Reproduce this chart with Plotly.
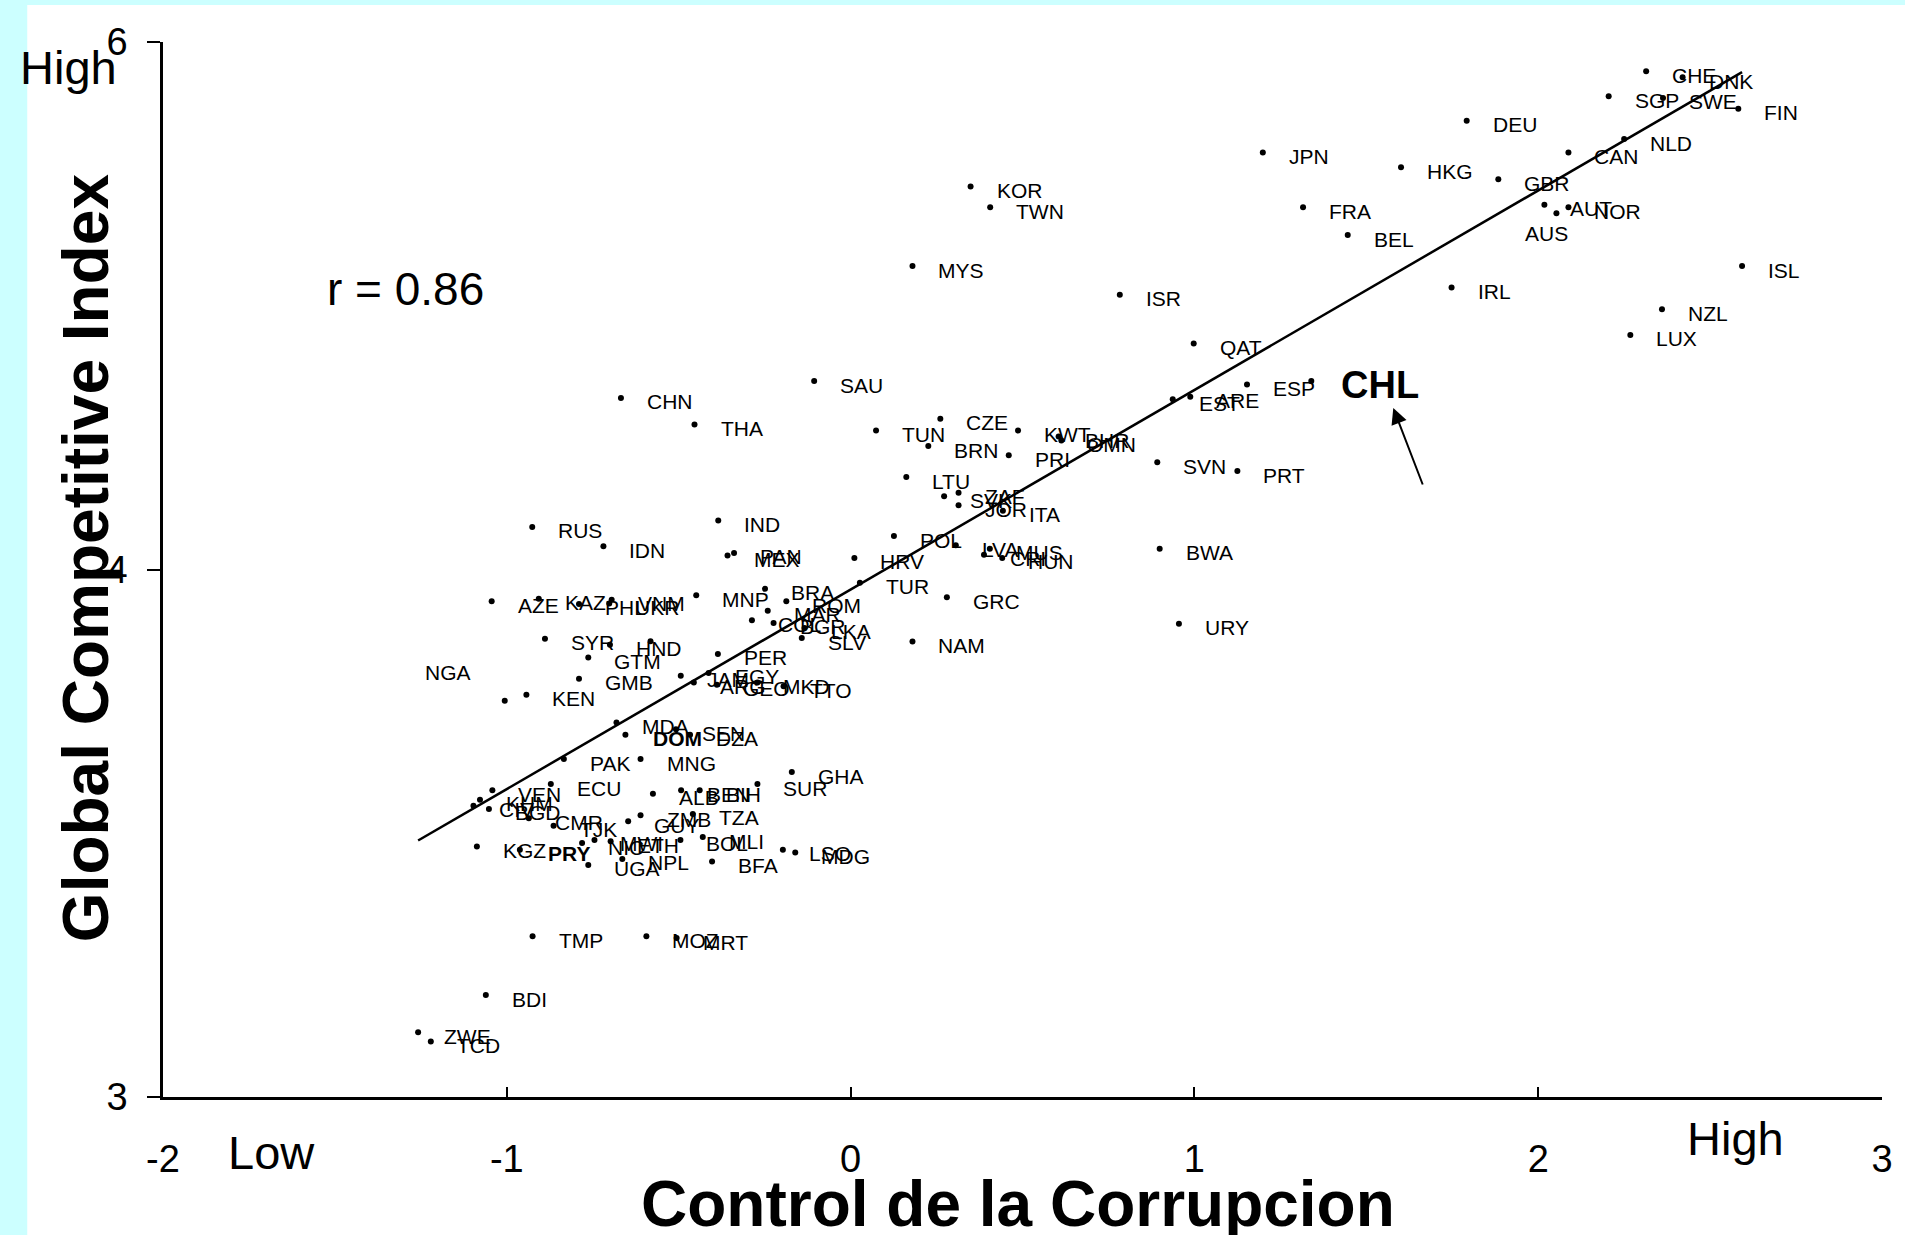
import numpy as np
import plotly.graph_objects as go

# ---------------- data ----------------
codes = ["CHE", "DNK", "SGP", "SWE", "FIN", "DEU", "NLD", "CAN", "JPN", "HKG",
         "GBR", "KOR", "AUT", "NOR", "AUS", "FRA", "TWN", "BEL", "MYS", "ISL",
         "IRL", "ISR", "NZL", "LUX", "QAT", "SAU", "CHL", "ESP", "ARE", "EST",
         "CHN", "CZE", "THA", "TUN", "KWT", "BHR", "OMN", "BRN", "PRI", "SVN",
         "PRT", "LTU", "ZAF", "SVK", "JOR", "ITA", "IND", "RUS", "POL", "IDN",
         "LVA", "MUS", "BWA", "PAN", "CRI", "MEX", "HRV", "HUN", "TUR", "BRA",
         "MNP", "GRC", "KAZ", "AZE", "ROM", "UKR", "PHL", "VNM", "MAR", "COL",
         "BGR", "URY", "LKA", "SLV", "SYR", "NAM", "HND", "PER", "GTM", "JAM",
         "NGA", "GMB", "ARG", "MKD", "GEO", "TTO", "KEN", "MDA", "SEN", "DOM",
         "DZA", "PAK", "MNG", "GHA", "SUR", "ECU", "VEN", "BEN", "BIH", "ALB",
         "KHM", "CIV", "BGD", "TZA", "ZMB", "CMR", "GUY", "TJK", "MLI", "MWI",
         "BOL", "ETH", "NIC", "KGZ", "PRY", "LSO", "MDG", "NPL", "BFA", "UGA",
         "TMP", "MOZ", "MRT", "BDI", "ZWE", "TCD", "EGY", "ARM"]

control_corrupcion = [
    2.314, 2.420, 2.205, 2.363, 2.582, 1.792, 2.250, 2.088, 1.199, 1.601,
    1.884, 0.349, 2.018, 2.088, 2.053, 1.316, 0.406, 1.446, 0.180, 2.593,
    1.748, 0.783, 2.360, 2.268, 0.998, -0.106, 1.340, 1.153, 0.988, 0.937,
    -0.668, 0.261, -0.454, 0.074, 0.487, 0.605, 0.613, 0.226, 0.460, 0.892,
    1.125, 0.162, 0.314, 0.272, 0.314, 0.443, -0.385, -0.926, 0.126, -0.719,
    0.306, 0.405, 0.899, -0.339, 0.388, -0.358, 0.011, 0.441, 0.027, -0.249,
    -0.449, 0.280, -0.907, -1.044, -0.187, -0.702, -0.790, -0.695, -0.241, -0.287,
    -0.224, 0.955, -0.134, -0.142, -0.889, 0.180, -0.700, -0.386, -0.763, -0.494,
    -1.006, -0.790, -0.456, -0.271, -0.389, -0.195, -0.943, -0.681, -0.508, -0.655,
    -0.467, -0.834, -0.611, -0.171, -0.271, -0.872, -1.042, -0.493, -0.439, -0.575,
    -1.078, -1.097, -1.052, -0.459, -0.611, -0.936, -0.647, -0.864, -0.430, -0.745,
    -0.495, -0.698, -0.781, -1.087, -0.962, -0.197, -0.161, -0.664, -0.403, -0.763,
    -0.925, -0.594, -0.506, -1.061, -1.258, -1.221, -0.413, -0.582]

global_competitive_index = [
    5.917, 5.900, 5.846, 5.841, 5.810, 5.776, 5.724, 5.686, 5.686, 5.644,
    5.610, 5.589, 5.537, 5.530, 5.513, 5.530, 5.530, 5.451, 5.363, 5.363,
    5.302, 5.281, 5.240, 5.167, 5.143, 5.036, 5.036, 5.026, 4.991, 4.984,
    4.988, 4.929, 4.912, 4.895, 4.895, 4.878, 4.867, 4.851, 4.825, 4.805,
    4.780, 4.763, 4.718, 4.708, 4.683, 4.667, 4.639, 4.621, 4.595, 4.566,
    4.569, 4.559, 4.559, 4.547, 4.542, 4.540, 4.533, 4.533, 4.462, 4.445,
    4.427, 4.421, 4.417, 4.410, 4.410, 4.403, 4.402, 4.414, 4.383, 4.356,
    4.348, 4.346, 4.334, 4.305, 4.303, 4.295, 4.286, 4.260, 4.250, 4.198,
    4.127, 4.189, 4.179, 4.179, 4.172, 4.168, 4.144, 4.065, 4.046, 4.030,
    4.030, 3.961, 3.961, 3.924, 3.890, 3.890, 3.872, 3.872, 3.872, 3.862,
    3.845, 3.828, 3.819, 3.805, 3.801, 3.793, 3.784, 3.771, 3.739, 3.731,
    3.731, 3.727, 3.722, 3.712, 3.703, 3.703, 3.695, 3.677, 3.670, 3.660,
    3.457, 3.457, 3.452, 3.290, 3.184, 3.158, 4.206, 4.296]

x_ticks = [-2, -1, 0, 1, 2, 3]
y_ticks = [3, 4.5, 6]
y_tick_labels = ["3", "4", "6"]
r_text = "r = 0.86"
highlight = "CHL"

# ---------------- styling ----------------
FONT = "Liberation Sans, Arial, Helvetica, sans-serif"
W, H = 1905, 1235
L, R, T, B = 163, 20, 42, 138
PW, PH = W - L - R, H - T - B


def px_x(p):
    return (p - L) / PW


def px_y(p):
    return (H - B - p) / PH


# special label placements (style only)
label_style = {
    "NGA": dict(xanchor="right", xshift=-32, yshift=28),
    "AUS": dict(xanchor="center", xshift=-10, yshift=-20),
    "CHL": dict(xanchor="left", xshift=28, yshift=-4, size=38, bold=True),
    "DOM": dict(xanchor="left", xshift=26, yshift=-4, bold=True),
    "PRY": dict(xanchor="left", xshift=26, yshift=-4, bold=True),
    "ARM": dict(hidden=True),
}

x = np.array(control_corrupcion)
y = np.array(global_competitive_index)

fig = go.Figure()

fig.add_trace(go.Scatter(
    x=x, y=y, mode="markers",
    marker=dict(size=6, color="black"),
    hovertext=codes, showlegend=False))

# fitted regression line
slope, intercept = np.polyfit(x, y, 1)
xs = np.sort(x)
fig.add_trace(go.Scatter(
    x=xs, y=slope * xs + intercept, mode="lines",
    line=dict(color="black", width=2.5), showlegend=False, hoverinfo="skip"))

annotations = []
for c, xv, yv in zip(codes, control_corrupcion, global_competitive_index):
    st = label_style.get(c, {})
    if st.get("hidden"):
        continue
    size = st.get("size", 21)
    txt = f"<b>{c}</b>" if st.get("bold") else c
    annotations.append(dict(
        x=xv, y=yv, xref="x", yref="y", text=txt, showarrow=False,
        xanchor=st.get("xanchor", "left"), yanchor="middle",
        xshift=st.get("xshift", 24), yshift=st.get("yshift", -4),
        font=dict(family=FONT, size=size, color="black")))

# arrow pointing at the highlighted country label
hi = codes.index(highlight)
annotations.append(dict(
    x=control_corrupcion[hi], y=global_competitive_index[hi], xref="x", yref="y",
    xshift=82, yshift=-27, text="", showarrow=True,
    ax=30, ay=78, arrowhead=2, arrowsize=1.6, arrowwidth=2, arrowcolor="black"))

# texts
annotations += [
    dict(x=px_x(325), y=px_y(289), xref="paper", yref="paper", text=r_text,
         showarrow=False, xanchor="left", yanchor="middle",
         font=dict(family=FONT, size=46, color="black")),
    dict(x=px_x(18), y=px_y(67), xref="paper", yref="paper", text="High",
         showarrow=False, xanchor="left", yanchor="middle",
         font=dict(family=FONT, size=47, color="black")),
    dict(x=px_x(226), y=px_y(1152), xref="paper", yref="paper", text="Low",
         showarrow=False, xanchor="left", yanchor="middle",
         font=dict(family=FONT, size=47, color="black")),
    dict(x=px_x(1688), y=px_y(1138), xref="paper", yref="paper", text="High",
         showarrow=False, xanchor="left", yanchor="middle",
         font=dict(family=FONT, size=47, color="black")),
    dict(x=px_x(1019), y=px_y(1204), xref="paper", yref="paper",
         text="<b>Control de la Corrupcion</b>",
         showarrow=False, xanchor="center", yanchor="middle",
         font=dict(family=FONT, size=64, color="black")),
    dict(x=px_x(86), y=px_y(558), xref="paper", yref="paper",
         text="<b>Global Competitive Index</b>", textangle=-90,
         showarrow=False, xanchor="center", yanchor="middle",
         font=dict(family=FONT, size=64, color="black")),
]

fig.update_layout(
    width=W, height=H,
    margin=dict(l=L, r=R, t=T, b=B, pad=0),
    paper_bgcolor="#CCFFFF", plot_bgcolor="white",
    font=dict(family=FONT, color="black"),
    annotations=annotations,
    shapes=[dict(type="rect", xref="paper", yref="paper",
                 x0=px_x(27), x1=px_x(W + 5), y0=px_y(H + 5), y1=px_y(5),
                 fillcolor="white", line=dict(width=0), layer="below")],
    showlegend=False,
)

fig.update_xaxes(
    range=[-2, 3], tickvals=x_ticks, ticktext=[str(v) for v in x_ticks],
    ticks="inside", ticklen=10, tickwidth=2, tickcolor="black",
    showline=True, linewidth=3, linecolor="black",
    showgrid=False, zeroline=False,
    tickfont=dict(family=FONT, size=38, color="black"),
    ticklabelstandoff=26)

fig.update_yaxes(
    range=[3, 6], tickvals=y_ticks, ticktext=y_tick_labels,
    ticks="outside", ticklen=13, tickwidth=2, tickcolor="black",
    showline=True, linewidth=2.5, linecolor="black",
    showgrid=False, zeroline=False,
    tickfont=dict(family=FONT, size=38, color="black"),
    ticklabelstandoff=12)

fig.write_html(
    "out.html",
    config={"displayModeBar": False},
    post_script="document.body.style.margin='0px';"
                "document.body.style.overflow='hidden';"
                "document.body.style.backgroundColor='#CCFFFF';")
